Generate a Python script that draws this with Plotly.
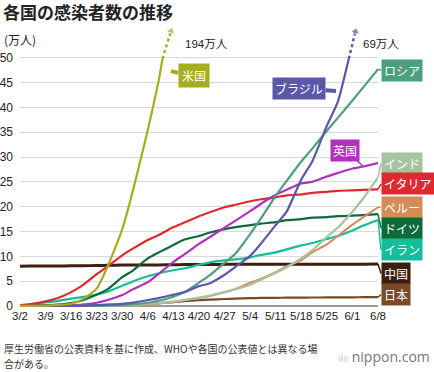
import plotly.graph_objects as go

# ---------------- data (万人) ----------------
DATES = ["2020-03-02", "2020-03-05", "2020-03-09", "2020-03-12", "2020-03-16", "2020-03-19",
         "2020-03-23", "2020-03-26", "2020-03-30", "2020-04-02", "2020-04-06", "2020-04-09",
         "2020-04-13", "2020-04-16", "2020-04-20", "2020-04-23", "2020-04-27", "2020-04-30",
         "2020-05-04", "2020-05-07", "2020-05-11", "2020-05-14", "2020-05-18", "2020-05-21",
         "2020-05-25", "2020-05-28", "2020-06-01", "2020-06-04", "2020-06-08"]

us_dates = DATES[:12] + ["2020-04-10"]
us = [0.01, 0.02, 0.06, 0.16, 0.45, 1.3, 3.5, 8.0, 15.5, 23.5, 35.5, 45.5, 49.8]
us_ext_dates = ["2020-04-10", "2020-04-12 08:00"]
us_ext = [49.8, 55.4]

brazil_dates = DATES[:26] + ["2020-05-31"]
brazil = [0, 0.001, 0.003, 0.005, 0.02, 0.05, 0.19, 0.29, 0.43, 0.69, 1.2, 1.6, 2.3, 2.8,
          4.0, 4.6, 6.3, 7.9, 10.1, 12.6, 16.3, 19.0, 25.5, 29.1, 36.3, 41.1, 49.8]
brazil_ext_dates = ["2020-05-31", "2020-06-01 20:00"]
brazil_ext = [49.8, 55.3]

russia = [0, 0, 0.001, 0.003, 0.009, 0.02, 0.04, 0.08, 0.18, 0.35, 0.65, 1.05, 1.85, 2.8,
          4.7, 6.2, 8.7, 10.6, 14.5, 17.7, 22.2, 25.2, 29.1, 31.7, 35.3, 37.9, 41.4, 44.1, 47.7]
uk = [0.004, 0.01, 0.03, 0.06, 0.15, 0.27, 0.65, 1.2, 2.2, 3.4, 4.8, 6.5, 8.9, 10.4,
      12.5, 13.9, 15.8, 17.2, 19.1, 20.6, 22.4, 23.4, 24.7, 25.0, 26.1, 26.8, 27.7, 28.1, 28.8]
india = [0, 0, 0.004, 0.007, 0.011, 0.02, 0.04, 0.07, 0.12, 0.2, 0.45, 0.58, 0.92, 1.2,
         1.7, 2.1, 2.8, 3.4, 4.3, 5.3, 6.7, 7.8, 9.6, 11.2, 13.9, 15.8, 19.0, 21.7, 25.9]
italy = [0.17, 0.39, 0.92, 1.5, 2.8, 4.1, 6.4, 8.0, 10.2, 11.6, 13.3, 14.3, 15.9, 16.8,
         18.1, 18.9, 19.9, 20.4, 21.1, 21.5, 21.9, 22.3, 22.5, 22.8, 23.0, 23.2, 23.3, 23.4, 23.5]
peru = [0, 0, 0, 0.002, 0.007, 0.02, 0.04, 0.06, 0.09, 0.14, 0.24, 0.51, 0.79, 1.2,
        1.6, 2.0, 2.8, 3.4, 4.7, 5.5, 6.8, 8.0, 9.2, 10.8, 12.4, 14.1, 16.4, 17.9, 19.9]
germany = [0.015, 0.05, 0.11, 0.27, 0.6, 1.1, 2.3, 3.4, 5.8, 7.2, 9.6, 10.8, 12.3, 13.4,
           14.1, 14.8, 15.5, 15.9, 16.3, 16.6, 16.9, 17.3, 17.5, 17.8, 17.9, 18.1, 18.2, 18.3, 18.5]
iran = [0.15, 0.35, 0.7, 1.0, 1.5, 1.8, 2.3, 2.9, 4.1, 5.0, 6.0, 6.6, 7.2, 7.6,
        8.3, 8.8, 9.2, 9.4, 9.8, 10.3, 10.8, 11.4, 12.2, 12.7, 13.5, 14.1, 15.2, 16.2, 17.3]
china = [8.02, 8.04, 8.07, 8.08, 8.09, 8.12, 8.15, 8.19, 8.25, 8.26, 8.27, 8.28, 8.30, 8.34,
         8.37, 8.38, 8.39, 8.39, 8.40, 8.40, 8.40, 8.40, 8.41, 8.41, 8.41, 8.42, 8.42, 8.43, 8.45]
japan = [0.1, 0.11, 0.12, 0.14, 0.16, 0.17, 0.19, 0.21, 0.26, 0.32, 0.44, 0.6, 0.8, 0.96,
         1.16, 1.28, 1.41, 1.48, 1.59, 1.62, 1.65, 1.67, 1.70, 1.71, 1.72, 1.74, 1.75, 1.77, 1.79]

TICK_DATES = ["2020-03-02", "2020-03-09", "2020-03-16", "2020-03-23", "2020-03-30", "2020-04-06",
              "2020-04-13", "2020-04-20", "2020-04-27", "2020-05-04", "2020-05-11", "2020-05-18",
              "2020-05-25", "2020-06-01", "2020-06-08"]
TICK_TEXT = ["3/2", "3/9", "3/16", "3/23", "3/30", "4/6", "4/13", "4/20", "4/27", "5/4",
             "5/11", "5/18", "5/25", "6/1", "6/8"]
Y_TICKS = [0, 5, 10, 15, 20, 25, 30, 35, 40, 45, 50]

# ---------------- styles ----------------
C = {
    "米国": "#a7ad1e", "ブラジル": "#5b58a8", "ロシア": "#4e9f80", "英国": "#b230bf",
    "インド": "#a6c3a0", "イタリア": "#e0282f", "ペルー": "#d38e58", "ドイツ": "#0f6a3a",
    "イラン": "#15bd9b", "中国": "#3c1f10", "日本": "#7b4b26",
}
JP = "Noto Sans CJK JP"
LAT = "Liberation Sans, Arial, Noto Sans CJK JP"

fig = go.Figure()

series = [
    ("日本", DATES, japan, 2.2),
    ("中国", DATES, china, 3.0),
    ("イラン", DATES, iran, 2.2),
    ("ドイツ", DATES, germany, 2.2),
    ("ペルー", DATES, peru, 2.0),
    ("イタリア", DATES, italy, 2.2),
    ("インド", DATES, india, 2.2),
    ("英国", DATES, uk, 2.2),
    ("ロシア", DATES, russia, 2.2),
    ("ブラジル", brazil_dates, brazil, 2.2),
    ("米国", us_dates, us, 2.2),
]
for name, xs, ys, w in series:
    fig.add_trace(go.Scatter(x=xs, y=ys, mode="lines", name=name,
                             line=dict(color=C[name], width=w, shape="spline", smoothing=0.5),
                             hoverinfo="skip"))

for name, xs, ys in [("米国", us_ext_dates, us_ext), ("ブラジル", brazil_ext_dates, brazil_ext)]:
    fig.add_trace(go.Scatter(x=xs, y=ys, mode="lines+markers",
                             line=dict(color=C[name], width=2.5, dash="dot"),
                             marker=dict(symbol=["circle", "triangle-up"], size=[0, 8],
                                         color=C[name], angleref="previous"),
                             cliponaxis=False, hoverinfo="skip"))

ann = []
right = [
    ("ロシア", DATES, russia, 47.5),
    ("インド", DATES, india, 28.8),
    ("イタリア", DATES, italy, 24.6),
    ("ペルー", DATES, peru, 19.9),
    ("ドイツ", DATES, germany, 15.7),
    ("イラン", DATES, iran, 11.3),
    ("中国", DATES, china, 6.55),
    ("日本", DATES, japan, 2.3),
]
for name, xs, ys, ly in right:
    ann.append(dict(x=xs[-1], y=ys[-1], xref="x", yref="y", text=name,
                    showarrow=True, arrowhead=0, arrowwidth=1.5, arrowcolor=C[name],
                    standoff=0, axref="pixel", ax=3, ayref="y", ay=ly,
                    xanchor="left", yanchor="middle",
                    bgcolor=C[name], borderpad=2, font=dict(family=JP, size=12, color="white")))

ann.append(dict(x="2020-04-12 07:00", y=47.3, text="米国", showarrow=True, arrowhead=0,
                arrowwidth=4, arrowcolor=C["米国"], standoff=0, ax=23, ay=4.5,
                bgcolor=C["米国"], borderpad=3, font=dict(family=JP, size=12, color="white")))
ann.append(dict(x="2020-05-27 12:00", y=43.3, text="ブラジル", showarrow=True, arrowhead=0,
                arrowwidth=4, arrowcolor=C["ブラジル"], standoff=0, ax=-37, ay=-2.5,
                bgcolor=C["ブラジル"], borderpad=2, font=dict(family=JP, size=12, color="white")))
ann.append(dict(x=DATES[-2], y=uk[-2], text="英国", showarrow=True, arrowhead=0,
                arrowwidth=1.5, arrowcolor=C["英国"], standoff=0, ax=-18, ay=-16.5,
                bgcolor=C["英国"], borderpad=2, font=dict(family=JP, size=12, color="white")))

ann.append(dict(x=(183 - 20) / 358, y=(307 - 44) / 277, xref="paper", yref="paper",
                text="194万人", showarrow=False, xanchor="left", yanchor="middle",
                font=dict(family=LAT, size=11.5, color="#222")))
ann.append(dict(x=(361 - 20) / 358, y=(307 - 44) / 277, xref="paper", yref="paper",
                text="69万人", showarrow=False, xanchor="left", yanchor="middle",
                font=dict(family=LAT, size=11.5, color="#222")))
ann.append(dict(x=(2 - 20) / 358, y=(307 - 40) / 277, xref="paper", yref="paper",
                text="(万人)", showarrow=False, xanchor="left", yanchor="middle",
                font=dict(family=JP, size=12, color="#222")))
ann.append(dict(x=(2 - 20) / 358, y=(307 - 348.5) / 277, xref="paper", yref="paper",
                text="厚生労働省の公表資料を基に作成、WHOや各国の公表値とは異なる場",
                showarrow=False, xanchor="left", yanchor="middle",
                font=dict(family=JP, size=10, color="#333")))
ann.append(dict(x=(2 - 20) / 358, y=(307 - 363.5) / 277, xref="paper", yref="paper",
                text="合がある。",
                showarrow=False, xanchor="left", yanchor="middle",
                font=dict(family=JP, size=10, color="#333")))
ann.append(dict(x=(432 - 20) / 358, y=(307 - 356) / 277, xref="paper", yref="paper",
                text="<span style='color:#c8c8c8;font-size:10px'>ılıı</span> nippon<span style='color:#e03030'>.</span>com",
                showarrow=False, xanchor="right", yanchor="middle",
                font=dict(family="Open Sans, Noto Sans", size=14, color="#777")))

fig.update_layout(
    width=434, height=372,
    margin=dict(l=20, r=56, t=30, b=65, autoexpand=False),
    paper_bgcolor="white", plot_bgcolor="white",
    showlegend=False,
    title=dict(text="<b>各国の感染者数の推移</b>", x=3 / 434, y=1 - 13 / 372,
               xref="container", yref="container", xanchor="left", yanchor="middle",
               font=dict(family=JP, size=17, color="#222")),
    annotations=ann,
    xaxis=dict(type="date", range=["2020-03-02", "2020-06-08"], tickvals=TICK_DATES,
               ticktext=TICK_TEXT, showgrid=False, zeroline=False, showline=False,
               ticks="", automargin=False, tickfont=dict(family=LAT, size=11.5, color="#222")),
    yaxis=dict(range=[-0.2, 55.6], tickvals=Y_TICKS, showgrid=True, gridcolor="#d9d9d9",
               gridwidth=1, zeroline=True, zerolinecolor="#9a9a9a", zerolinewidth=1.5,
               ticks="", ticklabelstandoff=6, automargin=False,
               tickfont=dict(family=LAT, size=12, color="#222")),
)

fig.write_html("out.html", config={"displayModeBar": False, "staticPlot": True},
               post_script="document.body.style.margin='0';document.body.style.overflow='hidden';")
